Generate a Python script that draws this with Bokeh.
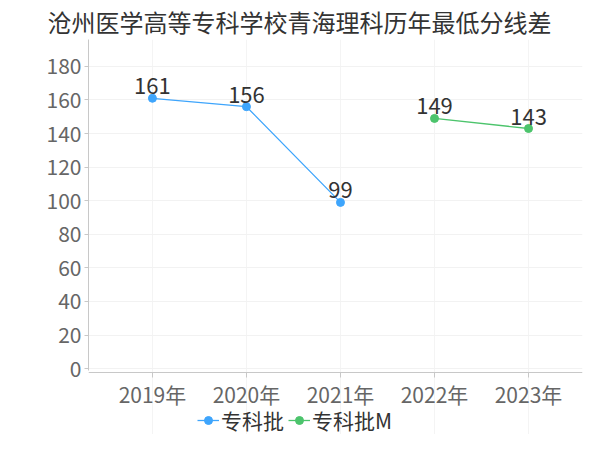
from bokeh.plotting import figure
from bokeh.models import ColumnDataSource, Range1d, FixedTicker, Legend, LegendItem
from bokeh.core.properties import value
from bokeh.embed import file_html
from bokeh.resources import INLINE

title = "沧州医学高等专科学校青海理科历年最低分线差"
years = ["2019年", "2020年", "2021年", "2022年", "2023年"]
s1_name = "专科批"
s1_years = ["2019年", "2020年", "2021年"]
s1_vals = [161, 156, 99]
s2_name = "专科批M"
s2_years = ["2022年", "2023年"]
s2_vals = [149, 143]
y_ticks = [0, 20, 40, 60, 80, 100, 120, 140, 160, 180]

FONT = "Noto Sans CJK SC"
BLUE = "#3ea5fc"
GREEN = "#4cc46c"

idx = {y: i for i, y in enumerate(years)}
src1 = ColumnDataSource(dict(x=[idx[y] for y in s1_years], y=s1_vals, t=[str(v) for v in s1_vals]))
src2 = ColumnDataSource(dict(x=[idx[y] for y in s2_years], y=s2_vals, t=[str(v) for v in s2_vals]))

AXIS_Y = -2.4
Y_TOP = 196

p = figure(width=584, height=434, output_backend="svg", toolbar_location=None,
           x_range=Range1d(-0.68, 4.574), y_range=Range1d(-39.2, Y_TOP),
           min_border_left=88, min_border_right=2, min_border_top=38, min_border_bottom=0)

p.title.text = title
p.title.text_font = FONT
p.title.text_font_size = "24px"
p.title.text_font_style = "normal"
p.title.text_color = "#333333"
p.title.align = "left"
p.title.offset = -41
p.title.standoff = 2

p.outline_line_color = None
p.background_fill_color = "white"

# axes
p.xaxis.ticker = FixedTicker(ticks=list(range(len(years))))
p.xaxis.major_label_overrides = {i: y for i, y in enumerate(years)}
p.xaxis.fixed_location = AXIS_Y
p.yaxis.ticker = FixedTicker(ticks=y_ticks)
p.yaxis.bounds = (-1, Y_TOP)
for ax in (p.xaxis[0], p.yaxis[0]):
    ax.axis_line_color = "#c8c8c8"
    ax.major_tick_line_color = "#c8c8c8"
    ax.major_tick_in = 0
    ax.minor_tick_line_color = None
    ax.major_label_text_font = FONT
    ax.major_label_text_font_size = "21px"
    ax.major_label_text_color = "#666666"
p.xaxis.major_tick_out = 5
p.xaxis.major_label_standoff = 1
p.yaxis.major_tick_out = 4
p.yaxis.major_label_standoff = 3

p.xgrid.ticker = FixedTicker(ticks=list(range(len(years))))
p.xgrid.bounds = (AXIS_Y, Y_TOP)
p.xgrid.grid_line_color = "#f4f4f4"
p.ygrid.grid_line_color = "#f2f2f2"

l1 = p.line("x", "y", source=src1, line_color=BLUE, line_width=1.3)
c1 = p.scatter("x", "y", source=src1, size=8, fill_color=BLUE, line_color=BLUE)
l2 = p.line("x", "y", source=src2, line_color=GREEN, line_width=1.3)
c2 = p.scatter("x", "y", source=src2, size=8, fill_color=GREEN, line_color=GREEN)

for src in (src1, src2):
    p.text("x", "y", text="t", source=src, text_font=value(FONT), text_font_size="22px",
           text_color="#333333", text_align="center", text_baseline="bottom", y_offset=-4)

legend = Legend(items=[LegendItem(label=s1_name, renderers=[l1, c1]),
                       LegendItem(label=s2_name, renderers=[l2, c2])],
                orientation="horizontal", location=(109, -1))
legend.label_text_font = FONT
legend.label_text_font_size = "21px"
legend.label_text_color = "#333333"
legend.label_height = 24
legend.glyph_width = 22
legend.glyph_height = 20
legend.label_standoff = 2
legend.spacing = 4
legend.padding = 1
legend.margin = 0
legend.border_line_color = None
legend.background_fill_alpha = 0
p.add_layout(legend, "center")

open("out.html", "w").write(file_html(p, INLINE))
